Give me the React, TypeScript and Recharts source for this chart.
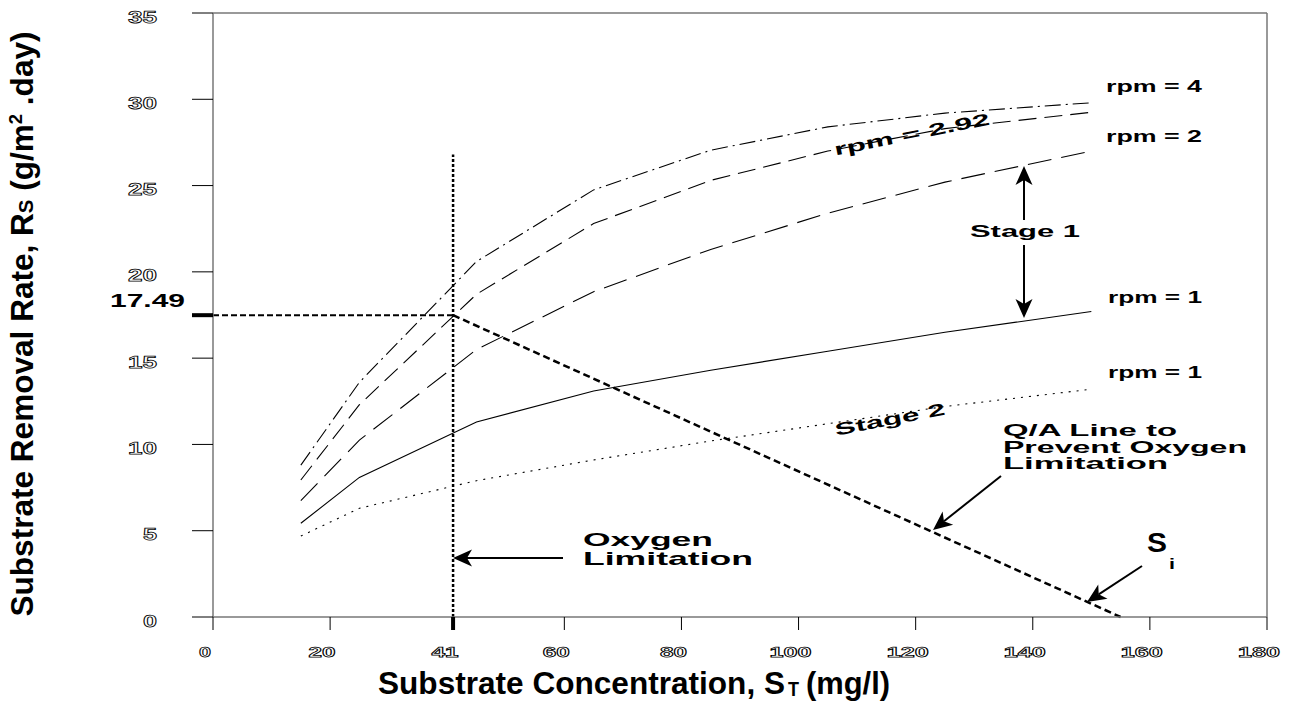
import { Line, LineChart, ReferenceLine, XAxis, YAxis } from 'recharts';

// substrate concentration S_T (mg/l) where the curves were sampled
const S_VALUES = [15, 25, 45, 65, 85, 105, 125, 150];
// removal rate R_S (g/m2.day) per rotational speed
const RPM4 = [8.8, 13.6, 20.6, 24.75, 27.05, 28.4, 29.2, 29.8];
const RPM292 = [7.94, 12.3, 18.7, 22.8, 25.3, 27.0, 28.3, 29.25];
const RPM2 = [6.74, 10.25, 15.5, 18.85, 21.3, 23.4, 25.2, 27.0];
const RPM1 = [5.43, 8.09, 11.3, 13.1, 14.3, 15.4, 16.5, 17.7];
const RPM1_STAGE2 = [4.69, 6.3, 7.9, 9.1, 10.2, 11.2, 12.2, 13.2];

const X_TICKS = [0, 20, 41, 60, 80, 100, 120, 140, 160, 180];
const Y_TICKS = [0, 5, 10, 15, 17.49, 20, 25, 30, 35];

// design point and oxygen-limit line
const S_LIMIT = 41;
const R_LIMIT = 17.49;
const S_INTERCEPT = 155;
const LIMIT_TOP = 26.8;

const FONT = '"Liberation Sans", Arial, Helvetica, sans-serif';

const rows = S_VALUES.map((s, i) => ({
  s,
  rpm4: RPM4[i],
  rpm292: RPM292[i],
  rpm2: RPM2[i],
  rpm1: RPM1[i],
  stage2: RPM1_STAGE2[i],
}));

// hollow (outlined) digits like the original plot
const hollow = {
  fontFamily: FONT,
  fontWeight: 700,
  fill: '#fff',
  stroke: '#000',
  strokeWidth: 0.75,
  lengthAdjust: 'spacingAndGlyphs',
} as const;

function XTick(props: any) {
  const { x, y, payload } = props;
  const label = String(payload.value);
  return (
    <g>
      {payload.value === S_LIMIT && (
        <line x1={x} x2={x} y1={y - 13} y2={y} stroke="#000" strokeWidth={4} />
      )}
      <text x={x - 8} y={y + 27} textAnchor="middle" fontSize={14} textLength={15 * label.length - 3} {...hollow}>
        {label}
      </text>
    </g>
  );
}

function YTick(props: any) {
  const { x, y, payload } = props;
  if (payload.value === R_LIMIT) {
    return (
      <g>
        <line x1={x + 35} x2={x + 56} y1={y} y2={y} stroke="#000" strokeWidth={4} />
        <text
          x={x + 28}
          y={y - 8.5}
          textAnchor="end"
          fontFamily={FONT}
          fontSize={18}
          fontWeight={700}
          textLength={75}
          lengthAdjust="spacingAndGlyphs"
          fill="#000"
        >
          17.49
        </text>
      </g>
    );
  }
  const label = String(payload.value);
  return (
    <text x={x} y={y + 9.5} textAnchor="end" fontSize={17} textLength={15 * label.length - 1} {...hollow}>
      {label}
    </text>
  );
}

function T({ x, y, w, size = 17, anchor = 'start', rot, children }: any) {
  return (
    <text
      x={x}
      y={y}
      fontFamily={FONT}
      fontSize={size}
      fontWeight={700}
      textAnchor={anchor}
      textLength={w}
      lengthAdjust="spacingAndGlyphs"
      transform={rot ? `rotate(${rot} ${x} ${y})` : undefined}
      fill="#000"
    >
      {children}
    </text>
  );
}

function Arrow({ x1, y1, x2, y2 }: any) {
  const len = Math.hypot(x2 - x1, y2 - y1);
  const ux = (x2 - x1) / len;
  const uy = (y2 - y1) / len;
  const L = 19;
  const Wd = 8.5;
  const bx = x2 - ux * L;
  const by = y2 - uy * L;
  const nx = bx + ux * 5;
  const ny = by + uy * 5;
  const pts = [
    [x2, y2],
    [bx - uy * Wd, by + ux * Wd],
    [nx, ny],
    [bx + uy * Wd, by - ux * Wd],
  ]
    .map((p) => p.join(','))
    .join(' ');
  return (
    <g>
      <line x1={x1} y1={y1} x2={nx} y2={ny} stroke="#000" strokeWidth={2} />
      <polygon points={pts} fill="#000" />
    </g>
  );
}

export default function App() {
  return (
    <div style={{ position: 'absolute', left: 0, top: 0, width: 1292, height: 702, background: '#fff' }}>
      <LineChart width={1292} height={702} data={rows} margin={{ top: 13, right: 25, left: 0, bottom: 0 }}>
        <XAxis
          dataKey="s"
          type="number"
          domain={[0, 180]}
          ticks={X_TICKS}
          interval={0}
          height={85}
          tickSize={13}
          tickMargin={0}
          axisLine={{ stroke: '#777', strokeWidth: 1.5 }}
          tickLine={{ stroke: '#000' }}
          tick={<XTick />}
        />
        <YAxis
          type="number"
          domain={[0, 35]}
          ticks={Y_TICKS}
          interval={0}
          width={213}
          tickSize={21}
          tickMargin={35}
          axisLine={{ stroke: '#777', strokeWidth: 1.5 }}
          tickLine={{ stroke: '#000' }}
          tick={<YTick />}
        />
        <ReferenceLine y={35} stroke="#777" strokeWidth={1.5} />
        <ReferenceLine x={180} stroke="#777" strokeWidth={1.5} />
        <ReferenceLine
          segment={[{ x: S_LIMIT, y: 0 }, { x: S_LIMIT, y: LIMIT_TOP }]}
          stroke="#000"
          strokeWidth={2.5}
          strokeDasharray="3 2"
        />
        <ReferenceLine
          segment={[{ x: 0, y: R_LIMIT }, { x: S_LIMIT, y: R_LIMIT }]}
          stroke="#000"
          strokeWidth={2}
          strokeDasharray="6 3"
        />
        <ReferenceLine
          segment={[{ x: S_LIMIT, y: R_LIMIT }, { x: S_INTERCEPT, y: 0 }]}
          stroke="#000"
          strokeWidth={2.5}
          strokeDasharray="7 4"
        />
        <Line type="linear" dataKey="rpm4" stroke="#000" strokeWidth={1.1} strokeDasharray="16 5 2 5" dot={false} isAnimationActive={false} />
        <Line type="linear" dataKey="rpm292" stroke="#000" strokeWidth={1.1} strokeDasharray="18 8" dot={false} isAnimationActive={false} />
        <Line type="linear" dataKey="rpm2" stroke="#000" strokeWidth={1.1} strokeDasharray="24 10" dot={false} isAnimationActive={false} />
        <Line type="linear" dataKey="rpm1" stroke="#000" strokeWidth={1.1} dot={false} isAnimationActive={false} />
        <Line type="linear" dataKey="stage2" stroke="#000" strokeWidth={1.1} strokeDasharray="2 6" dot={false} isAnimationActive={false} />
      </LineChart>

      <svg width={1292} height={702} style={{ position: 'absolute', left: 0, top: 0, pointerEvents: 'none' }}>
        {/* axis titles */}
        <text
          x={33}
          y={324}
          transform="rotate(-90 33 324)"
          textAnchor="middle"
          fontFamily={FONT}
          fontSize={31}
          fontWeight={700}
          textLength={585}
          lengthAdjust="spacingAndGlyphs"
        >
          Substrate Removal Rate, R
          <tspan fontSize={20}>S</tspan>
          <tspan> (g/m</tspan>
          <tspan fontSize={18} dy={-11}>2</tspan>
          <tspan dy={11}> .day)</tspan>
        </text>
        <T x={378} y={694} w={407} size={32}>Substrate Concentration, S</T>
        <T x={788} y={696} w={11} size={20}>T</T>
        <T x={806} y={694} w={84} size={32}>(mg/l)</T>

        {/* curve labels */}
        <T x={1106} y={91.5} w={96}>rpm = 4</T>
        <T x={1106} y={141.7} w={96}>rpm = 2</T>
        <T x={1108} y={303} w={94}>rpm = 1</T>
        <T x={1108} y={378} w={94}>rpm = 1</T>
        <T x={913} y={140} w={158} anchor="middle" rot={-11.4}>rpm = 2.92</T>
        <T x={891} y={425} w={112} anchor="middle" rot={-11}>Stage 2</T>

        {/* stage 1 */}
        <T x={1080} y={236.5} w={110} anchor="end">Stage 1</T>
        <Arrow x1={1024} y1={220} x2={1024} y2={166} />
        <Arrow x1={1024} y1={245} x2={1024} y2={318} />

        {/* Q/A line note */}
        <T x={1003} y={436} w={174} size={16.5}>Q/A Line to</T>
        <T x={1003} y={452.5} w={244} size={16.5}>Prevent Oxygen</T>
        <T x={1003} y={469} w={165} size={16.5}>Limitation</T>
        <Arrow x1={1001} y1={476} x2={933} y2={530} />

        {/* oxygen limitation */}
        <T x={583} y={545.5} w={130} size={19}>Oxygen</T>
        <T x={583} y={565} w={170} size={19}>Limitation</T>
        <Arrow x1={563} y1={558} x2={453} y2={558} />

        {/* S_i */}
        <T x={1147} y={552} w={20} size={28}>S</T>
        <T x={1169} y={569} w={6} size={15}>i</T>
        <Arrow x1={1142} y1={566} x2={1087} y2={602} />
      </svg>
    </div>
  );
}
